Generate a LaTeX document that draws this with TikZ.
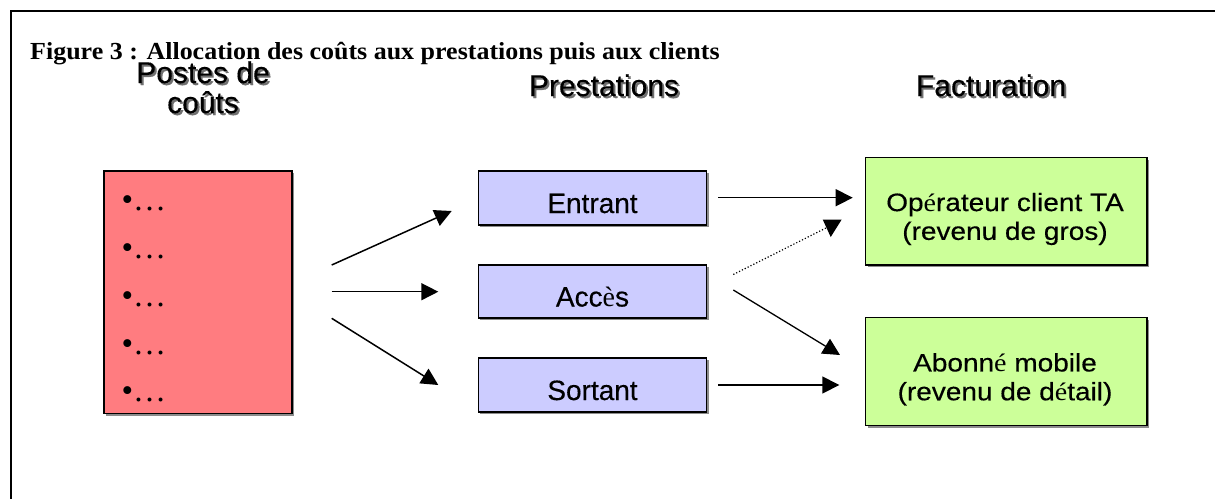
\documentclass[tikz,border=0pt]{standalone}
\usepackage{fontspec}
\setmainfont{Liberation Serif}
\newfontfamily\arialf{Liberation Sans}[FakeBold=0.3]
\usetikzlibrary{arrows.meta,shadows}
\definecolor{redfill}{HTML}{FF7C80}
\definecolor{bluefill}{HTML}{CCCCFF}
\definecolor{greenfill}{HTML}{CCFF99}
\definecolor{shgray}{HTML}{707070}
\newcommand\shtxt[1]{\rlap{\hspace{2pt}\raisebox{-2pt}{\color{shgray}#1}}#1}
\newcommand\tms[1]{{\rmfamily #1}}
\begin{document}
\begin{tikzpicture}[x=1pt,y=-1pt,
  box/.style={draw=black, line width=1.3pt, inner sep=0pt,
    drop shadow={shadow xshift=2pt, shadow yshift=-2pt, fill=black, opacity=0.45}},
  arr/.style={line width=1.5pt, -{Triangle[length=17pt,width=17pt]}},
  boxtext/.style={font=\arialf\fontsize{28}{32}\selectfont},
  heading/.style={font=\arialf\fontsize{30}{30}\selectfont, align=center, inner sep=0pt},
  bul/.style={anchor=base west, inner sep=0pt, font=\fontsize{33}{33}\selectfont}]
\useasboundingbox (0,0) rectangle (1215,499);
% frame
\draw[line width=2pt] (1215,11) -- (11,11) -- (11,499);
% title
\node[anchor=base west, inner sep=0pt, font=\bfseries\fontsize{24.5}{28}\selectfont] (title) at (30,59.5)
  {\scalebox{1.06}[1]{Figure 3 : Allocation des coûts aux prestations puis aux clients}};
% headings
\node[heading, anchor=base] (hpostes) at (203,113) {\shtxt{Postes de}\\\shtxt{coûts}};
\node[heading, anchor=base] (hprest) at (604,96) {\shtxt{Prestations}};
\node[heading, anchor=base] (hfact) at (991,96) {\shtxt{Facturation}};
% cost box
\node[box, fill=redfill, minimum width=188pt, minimum height=242.5pt] (red) at (198,292.25) {};
\node[bul] (b1) at (121.4,210.7) {•…};
\node[bul] (b2) at (121.4,258.5) {•…};
\node[bul] (b3) at (121.4,306.3) {•…};
\node[bul] (b4) at (121.4,354.1) {•…};
\node[bul] (b5) at (121.4,401.9) {•…};
% prestations
\node[box, boxtext, fill=bluefill, minimum width=228.4pt, minimum height=54pt, text height=30pt, text depth=0pt] (entrant) at (592.5,198) {Entrant};
\node[box, boxtext, fill=bluefill, minimum width=228.4pt, minimum height=53pt, text height=30pt, text depth=0pt] (acces) at (592.5,291.5) {Acc\tms{è}s};
\node[box, boxtext, fill=bluefill, minimum width=228.4pt, minimum height=54pt, text height=30pt, text depth=0pt] (sortant) at (592.5,385) {Sortant};
% facturation
\node[box, fill=greenfill, minimum width=281.3pt, minimum height=107.3pt] (oper) at (1006.3,211.3) {};
\node[box, fill=greenfill, minimum width=281.3pt, minimum height=108pt] (abon) at (1006.3,371.7) {};
\node[boxtext, inner sep=0pt] (opertxt) at (1005,219.7)
  {\scalebox{1}[0.9]{\begin{tabular}{@{}c@{}}Op\tms{é}rateur client TA\\(revenu de gros)\end{tabular}}};
\node[boxtext, inner sep=0pt] (abontxt) at (1005,380.1)
  {\scalebox{1}[0.9]{\begin{tabular}{@{}c@{}}Abonn\tms{é} mobile\\(revenu de d\tms{é}tail)\end{tabular}}};
% connector end points
\coordinate (s1) at (331.7,265);   \coordinate (e1) at (451.7,211);
\coordinate (s2) at (331.7,291.7); \coordinate (e2) at (438.3,291.7);
\coordinate (s3) at (331.7,318.3); \coordinate (e3) at (438.3,385);
\coordinate (s4) at (718.3,197.7); \coordinate (e4) at (852.7,197.7);
\coordinate (s5) at (733.3,274.5); \coordinate (e5) at (826,228);
\coordinate (s6) at (733.3,290);   \coordinate (e6) at (840,355);
\coordinate (s7) at (718.3,385);   \coordinate (e7) at (839.3,385);
\draw[arr] (s1) -- (e1);
\draw[arr] (s2) -- (e2);
\draw[arr] (s3) -- (e3);
\draw[arr] (s4) -- (e4);
\draw[line width=1.2pt, dotted] (s5) -- (e5);
\fill (822.7,219.5) -- (841.7,219.5) -- (830.7,237) -- cycle;
\draw[arr, line width=1.3pt] (s6) -- (e6);
\draw[arr] (s7) -- (e7);
\end{tikzpicture}
\end{document}
